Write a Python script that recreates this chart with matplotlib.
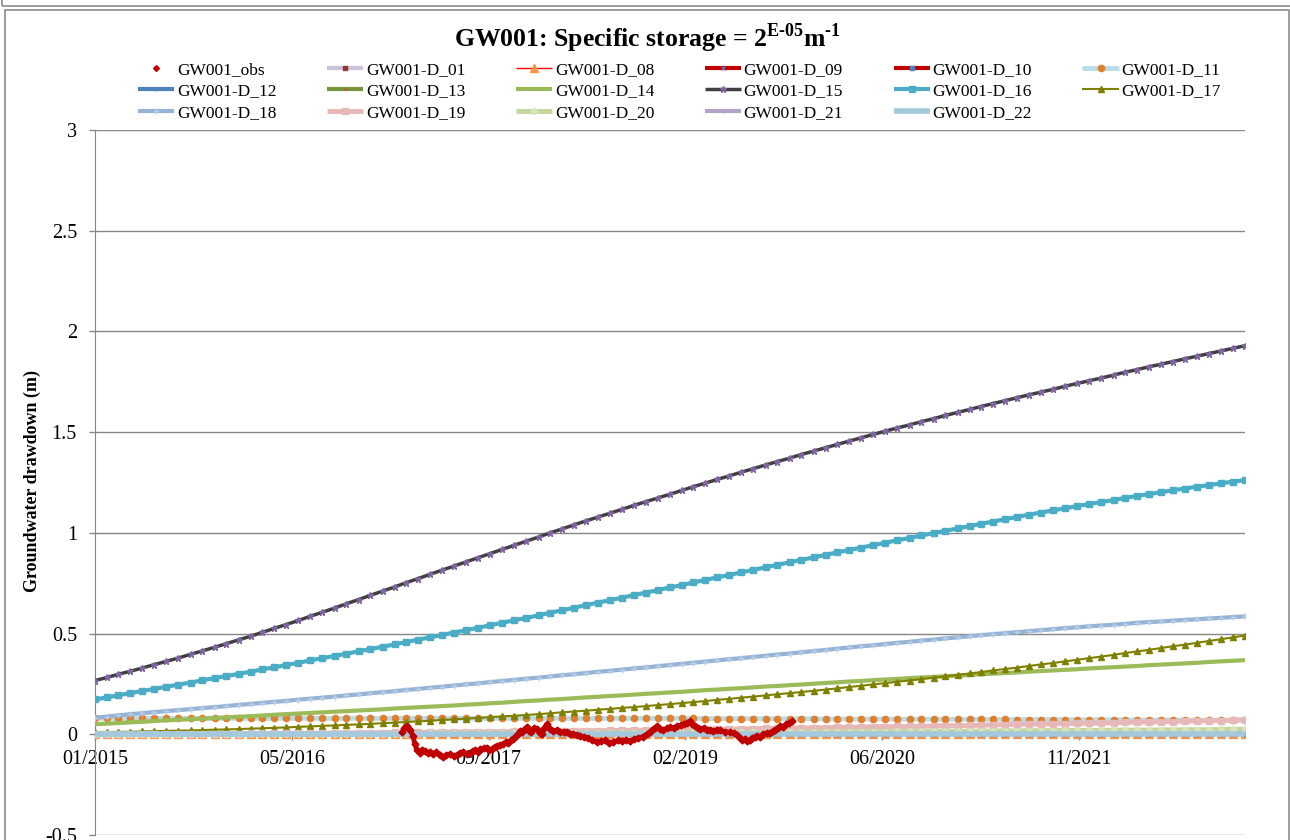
import matplotlib
matplotlib.use('Agg')
import matplotlib.pyplot as plt
from matplotlib.lines import Line2D
from matplotlib.patches import Rectangle
import pandas as pd

# ---- data ----
start_date = '2015-01-01'
tick_labels = ['01/2015', '05/2016', '09/2017', '02/2019', '06/2020', '11/2021']
tick_step_days = 500
y_ticks = [-0.5, 0, 0.5, 1, 1.5, 2, 2.5, 3]

# observed drawdown, days since start_date
obs_day = [780, 786, 792, 797, 801, 808, 813, 818, 826, 832,
           839, 846, 852, 860, 867, 876, 885, 893, 902, 911,
           920, 928, 935, 944, 953, 960, 966, 972, 979, 988,
           996, 1002, 1009, 1016, 1022, 1030, 1037, 1044, 1050, 1057,
           1063, 1069, 1075, 1080, 1085, 1092, 1098, 1103, 1108, 1116,
           1124, 1130, 1136, 1142, 1149, 1156, 1164, 1173, 1182, 1191,
           1200, 1208, 1215, 1224, 1233, 1243, 1253, 1264, 1276, 1286,
           1296, 1306, 1317, 1328, 1340, 1350, 1360, 1370, 1380, 1392,
           1403, 1410, 1416, 1422, 1429, 1436, 1444, 1453, 1462, 1470,
           1479, 1488, 1497, 1505, 1512, 1518, 1525, 1531, 1538, 1547,
           1556, 1563, 1571, 1580, 1589, 1601, 1614, 1623, 1632, 1638,
           1645, 1651, 1657, 1663, 1670, 1676, 1683, 1690, 1698, 1707,
           1716, 1722, 1729, 1735, 1741, 1749, 1757, 1764, 1772]
obs_val = [0.010, 0.030, 0.040, 0.028, 0.020, -0.010, -0.050, -0.080, -0.092, -0.078,
           -0.082, -0.095, -0.090, -0.100, -0.088, -0.105, -0.115, -0.102, -0.100, -0.110,
           -0.104, -0.092, -0.090, -0.098, -0.094, -0.082, -0.080, -0.086, -0.075, -0.068,
           -0.070, -0.078, -0.074, -0.062, -0.060, -0.052, -0.050, -0.040, -0.045, -0.030,
           -0.025, -0.008, 0.000, 0.015, 0.010, 0.028, 0.035, 0.018, 0.010, 0.030,
           0.025, 0.008, 0.000, 0.030, 0.050, 0.028, 0.015, 0.020, 0.010, 0.012,
           0.010, 0.002, 0.000, -0.005, -0.010, -0.012, -0.020, -0.028, -0.040, -0.035,
           -0.030, -0.042, -0.040, -0.030, -0.035, -0.028, -0.035, -0.025, -0.020, -0.012,
           0.000, 0.012, 0.020, 0.032, 0.040, 0.028, 0.020, 0.030, 0.035, 0.030,
           0.040, 0.045, 0.050, 0.058, 0.065, 0.050, 0.040, 0.030, 0.025, 0.030,
           0.020, 0.022, 0.015, 0.022, 0.020, 0.012, 0.010, 0.005, -0.005, -0.018,
           -0.030, -0.025, -0.035, -0.028, -0.020, -0.015, -0.010, -0.012, 0.000, 0.008,
           0.005, 0.015, 0.020, 0.032, 0.040, 0.038, 0.050, 0.055, 0.065]

# simulated drawdown, monthly from 01/2015 to 01/2023
n_months = 97
d01 = [0.0] * n_months
d08 = [0.0] * n_months
d09 = [0.0] * n_months
d10 = [0.0] * n_months
d11 = [0.079, 0.079, 0.079, 0.079, 0.079, 0.079, 0.079, 0.079, 0.079, 0.079,
       0.079, 0.079, 0.079, 0.079, 0.079, 0.079, 0.079, 0.079, 0.079, 0.079,
       0.079, 0.079, 0.079, 0.079, 0.079, 0.079, 0.079, 0.079, 0.079, 0.079,
       0.079, 0.079, 0.079, 0.079, 0.079, 0.079, 0.079, 0.079, 0.079, 0.079,
       0.079, 0.079, 0.079, 0.079, 0.079, 0.079, 0.079, 0.079, 0.079, 0.079,
       0.079, 0.078, 0.078, 0.078, 0.078, 0.078, 0.077, 0.077, 0.077, 0.077,
       0.077, 0.076, 0.076, 0.076, 0.076, 0.076, 0.076, 0.075, 0.075, 0.075,
       0.075, 0.075, 0.074, 0.074, 0.074, 0.074, 0.074, 0.073, 0.073, 0.073,
       0.073, 0.073, 0.072, 0.072, 0.072, 0.072, 0.072, 0.071, 0.071, 0.071,
       0.071, 0.071, 0.070, 0.070, 0.070, 0.070, 0.070]
d12 = [0.000, 0.000, 0.000, 0.000, 0.000, 0.000, 0.000, 0.000, 0.000, 0.000,
       0.000, 0.000, 0.000, 0.000, 0.000, 0.001, 0.001, 0.001, 0.001, 0.001,
       0.001, 0.001, 0.001, 0.001, 0.001, 0.001, 0.001, 0.001, 0.001, 0.001,
       0.002, 0.002, 0.002, 0.002, 0.002, 0.002, 0.002, 0.002, 0.002, 0.002,
       0.003, 0.003, 0.003, 0.003, 0.003, 0.004, 0.004, 0.004, 0.004, 0.004,
       0.004, 0.004, 0.004, 0.004, 0.004, 0.005, 0.005, 0.005, 0.005, 0.005,
       0.006, 0.006, 0.006, 0.006, 0.006, 0.007, 0.007, 0.007, 0.007, 0.007,
       0.008, 0.008, 0.008, 0.008, 0.008, 0.009, 0.009, 0.009, 0.009, 0.009,
       0.010, 0.010, 0.010, 0.010, 0.011, 0.011, 0.011, 0.012, 0.012, 0.012,
       0.013, 0.013, 0.013, 0.014, 0.014, 0.015, 0.015]
d13 = [0.000, 0.000, 0.000, 0.000, 0.000, 0.000, 0.000, 0.000, 0.000, 0.000,
       0.000, 0.000, 0.000, 0.000, 0.000, 0.000, 0.000, 0.000, 0.000, 0.000,
       0.001, 0.001, 0.001, 0.001, 0.001, 0.001, 0.001, 0.001, 0.001, 0.001,
       0.001, 0.001, 0.001, 0.001, 0.001, 0.001, 0.001, 0.001, 0.001, 0.001,
       0.002, 0.002, 0.002, 0.002, 0.002, 0.002, 0.002, 0.002, 0.002, 0.002,
       0.003, 0.003, 0.003, 0.003, 0.003, 0.003, 0.003, 0.003, 0.003, 0.003,
       0.004, 0.004, 0.004, 0.004, 0.004, 0.004, 0.004, 0.004, 0.004, 0.004,
       0.006, 0.006, 0.006, 0.006, 0.006, 0.006, 0.006, 0.006, 0.006, 0.006,
       0.008, 0.008, 0.008, 0.008, 0.008, 0.008, 0.008, 0.008, 0.008, 0.008,
       0.010, 0.010, 0.010, 0.010, 0.010, 0.010, 0.010]
d14 = [0.050, 0.053, 0.056, 0.059, 0.062, 0.066, 0.069, 0.072, 0.075, 0.078,
       0.081, 0.084, 0.087, 0.090, 0.093, 0.097, 0.100, 0.103, 0.106, 0.109,
       0.112, 0.115, 0.118, 0.121, 0.124, 0.128, 0.131, 0.134, 0.137, 0.140,
       0.143, 0.147, 0.150, 0.154, 0.157, 0.161, 0.165, 0.168, 0.172, 0.175,
       0.179, 0.183, 0.186, 0.190, 0.193, 0.197, 0.201, 0.204, 0.208, 0.211,
       0.215, 0.219, 0.222, 0.226, 0.229, 0.233, 0.237, 0.240, 0.244, 0.247,
       0.251, 0.255, 0.258, 0.262, 0.265, 0.269, 0.272, 0.275, 0.279, 0.282,
       0.285, 0.288, 0.291, 0.295, 0.298, 0.301, 0.304, 0.307, 0.311, 0.314,
       0.317, 0.320, 0.323, 0.327, 0.330, 0.333, 0.336, 0.339, 0.343, 0.346,
       0.349, 0.352, 0.355, 0.359, 0.362, 0.365, 0.368]
d15 = [0.267, 0.282, 0.298, 0.313, 0.329, 0.346, 0.362, 0.379, 0.397, 0.414,
       0.432, 0.450, 0.469, 0.487, 0.506, 0.526, 0.545, 0.565, 0.586, 0.606,
       0.627, 0.648, 0.669, 0.690, 0.711, 0.732, 0.752, 0.773, 0.794, 0.815,
       0.835, 0.856, 0.877, 0.897, 0.918, 0.938, 0.959, 0.979, 0.999, 1.019,
       1.039, 1.059, 1.078, 1.097, 1.117, 1.136, 1.155, 1.173, 1.192, 1.211,
       1.229, 1.247, 1.265, 1.283, 1.301, 1.319, 1.337, 1.354, 1.371, 1.389,
       1.406, 1.423, 1.439, 1.456, 1.472, 1.489, 1.505, 1.521, 1.536, 1.552,
       1.567, 1.583, 1.598, 1.613, 1.627, 1.642, 1.656, 1.671, 1.685, 1.699,
       1.713, 1.728, 1.742, 1.755, 1.769, 1.783, 1.797, 1.810, 1.824, 1.837,
       1.850, 1.864, 1.877, 1.890, 1.903, 1.916, 1.929]
d16 = [0.173, 0.183, 0.194, 0.204, 0.215, 0.225, 0.236, 0.246, 0.257, 0.268,
       0.279, 0.289, 0.300, 0.311, 0.322, 0.333, 0.344, 0.355, 0.367, 0.378,
       0.389, 0.400, 0.412, 0.423, 0.435, 0.446, 0.458, 0.470, 0.481, 0.493,
       0.505, 0.517, 0.529, 0.541, 0.554, 0.566, 0.578, 0.590, 0.603, 0.615,
       0.628, 0.641, 0.653, 0.666, 0.678, 0.691, 0.703, 0.716, 0.729, 0.741,
       0.754, 0.766, 0.779, 0.791, 0.804, 0.816, 0.829, 0.841, 0.854, 0.866,
       0.878, 0.891, 0.903, 0.915, 0.927, 0.939, 0.951, 0.963, 0.975, 0.987,
       0.999, 1.010, 1.022, 1.034, 1.045, 1.056, 1.068, 1.079, 1.090, 1.101,
       1.112, 1.122, 1.133, 1.143, 1.153, 1.163, 1.173, 1.183, 1.192, 1.202,
       1.211, 1.220, 1.229, 1.237, 1.246, 1.254, 1.262]
d17 = [0.010, 0.011, 0.012, 0.013, 0.014, 0.015, 0.017, 0.018, 0.019, 0.021,
       0.023, 0.024, 0.026, 0.028, 0.030, 0.032, 0.034, 0.037, 0.039, 0.042,
       0.044, 0.047, 0.049, 0.052, 0.055, 0.058, 0.061, 0.064, 0.067, 0.071,
       0.074, 0.078, 0.081, 0.085, 0.089, 0.092, 0.096, 0.100, 0.104, 0.109,
       0.113, 0.117, 0.122, 0.126, 0.131, 0.135, 0.140, 0.145, 0.150, 0.155,
       0.160, 0.165, 0.171, 0.176, 0.182, 0.187, 0.193, 0.199, 0.204, 0.210,
       0.216, 0.222, 0.228, 0.235, 0.241, 0.248, 0.254, 0.261, 0.267, 0.274,
       0.281, 0.288, 0.295, 0.302, 0.309, 0.317, 0.324, 0.331, 0.339, 0.347,
       0.354, 0.362, 0.370, 0.378, 0.386, 0.394, 0.403, 0.411, 0.419, 0.428,
       0.437, 0.445, 0.454, 0.463, 0.472, 0.481, 0.490]
d18 = [0.082, 0.088, 0.094, 0.100, 0.105, 0.110, 0.115, 0.120, 0.125, 0.130,
       0.135, 0.140, 0.146, 0.151, 0.156, 0.161, 0.166, 0.172, 0.177, 0.182,
       0.187, 0.193, 0.198, 0.204, 0.209, 0.214, 0.220, 0.225, 0.231, 0.236,
       0.242, 0.248, 0.253, 0.259, 0.265, 0.270, 0.276, 0.281, 0.287, 0.293,
       0.298, 0.304, 0.310, 0.315, 0.321, 0.327, 0.332, 0.338, 0.344, 0.350,
       0.355, 0.361, 0.367, 0.373, 0.378, 0.384, 0.390, 0.396, 0.401, 0.407,
       0.413, 0.419, 0.425, 0.431, 0.437, 0.442, 0.448, 0.454, 0.459, 0.465,
       0.470, 0.476, 0.481, 0.487, 0.492, 0.497, 0.502, 0.507, 0.512, 0.517,
       0.522, 0.527, 0.531, 0.536, 0.540, 0.544, 0.548, 0.553, 0.557, 0.560,
       0.564, 0.568, 0.571, 0.575, 0.578, 0.582, 0.585]
d19 = [0.000, 0.000, 0.000, 0.001, 0.001, 0.001, 0.001, 0.002, 0.002, 0.002,
       0.003, 0.003, 0.003, 0.004, 0.004, 0.004, 0.005, 0.005, 0.005, 0.006,
       0.006, 0.007, 0.007, 0.008, 0.008, 0.009, 0.009, 0.009, 0.010, 0.011,
       0.011, 0.012, 0.012, 0.013, 0.013, 0.014, 0.014, 0.015, 0.016, 0.016,
       0.017, 0.018, 0.018, 0.019, 0.020, 0.020, 0.021, 0.022, 0.022, 0.023,
       0.024, 0.025, 0.026, 0.026, 0.027, 0.028, 0.029, 0.030, 0.030, 0.031,
       0.032, 0.033, 0.034, 0.035, 0.036, 0.037, 0.038, 0.039, 0.039, 0.040,
       0.041, 0.042, 0.043, 0.044, 0.045, 0.047, 0.048, 0.049, 0.050, 0.051,
       0.052, 0.053, 0.054, 0.055, 0.056, 0.057, 0.059, 0.060, 0.061, 0.062,
       0.063, 0.065, 0.066, 0.067, 0.068, 0.070, 0.071]
d20 = [0.000, 0.000, 0.000, 0.000, 0.000, 0.000, 0.000, 0.001, 0.001, 0.001,
       0.001, 0.001, 0.001, 0.001, 0.001, 0.001, 0.002, 0.002, 0.002, 0.002,
       0.002, 0.002, 0.002, 0.003, 0.003, 0.003, 0.003, 0.003, 0.004, 0.004,
       0.004, 0.004, 0.004, 0.005, 0.005, 0.005, 0.005, 0.005, 0.006, 0.006,
       0.006, 0.006, 0.006, 0.007, 0.007, 0.007, 0.007, 0.008, 0.008, 0.008,
       0.008, 0.009, 0.009, 0.009, 0.009, 0.010, 0.010, 0.011, 0.011, 0.011,
       0.011, 0.012, 0.012, 0.012, 0.013, 0.013, 0.013, 0.014, 0.014, 0.014,
       0.014, 0.015, 0.015, 0.015, 0.016, 0.016, 0.017, 0.017, 0.018, 0.018,
       0.018, 0.019, 0.019, 0.019, 0.020, 0.020, 0.021, 0.021, 0.021, 0.022,
       0.022, 0.023, 0.023, 0.023, 0.024, 0.025, 0.025]
d21 = [0.0] * n_months
d22 = [0.0] * n_months

# name, values, line colour, line width, marker, marker colour, marker size
series = [
    ('GW001-D_01', d01, '#CCC1DA', 3.0, 's', '#953735', 3.5),
    ('GW001-D_08', d08, '#FF0000', 1.0, '^', '#F79646', 6.0),
    ('GW001-D_09', d09, '#C00000', 3.0, 'x', '#8064A2', 3.0),
    ('GW001-D_10', d10, '#C00000', 3.0, 's', '#4F81BD', 3.0),
    ('GW001-D_11', d11, '#B7DEE8', 3.5, 'o', '#E0802F', 4.5),
    ('GW001-D_12', d12, '#4F81BD', 3.0, '+', '#4F81BD', 3.0),
    ('GW001-D_13', d13, '#77933C', 3.0, '.', '#C0504D', 2.0),
    ('GW001-D_14', d14, '#9BBB59', 3.0, None, '#9BBB59', 0),
    ('GW001-D_15', d15, '#404040', 2.5, '*', '#8064A2', 4.5),
    ('GW001-D_16', d16, '#4BACC6', 3.0, 's', '#4BACC6', 4.0),
    ('GW001-D_17', d17, '#808000', 1.5, '^', '#808000', 5.0),
    ('GW001-D_18', d18, '#95B3D7', 3.0, '+', '#B9CDE5', 4.0),
    ('GW001-D_19', d19, '#E6B9B8', 3.5, 's', '#E6B9B8', 4.0),
    ('GW001-D_20', d20, '#C3D69B', 3.5, 'o', '#D7E4BD', 4.0),
    ('GW001-D_21', d21, '#B3A2C7', 3.0, '+', '#B3A2C7', 3.0),
    ('GW001-D_22', d22, '#A5C9DC', 4.0, None, '#A5C9DC', 0),
]

plt.rcParams['font.family'] = ['Liberation Serif', 'DejaVu Serif']
plt.rcParams['mathtext.fontset'] = 'custom'
plt.rcParams['mathtext.rm'] = 'Liberation Serif:bold'
plt.rcParams['mathtext.bf'] = 'Liberation Serif:bold'

W, H = 1290, 840
fig = plt.figure(figsize=(W / 100, H / 100), dpi=100)
ax = fig.add_axes([95 / W, 5 / H, 1150 / W, 705 / H])

start = pd.Timestamp(start_date)
months = pd.date_range(start_date, periods=n_months, freq='MS')
obs_dates = start + pd.to_timedelta(obs_day, unit='D')

handles = {}
for z, (name, vals, col, lw, mk, mcol, ms) in enumerate(series):
    line, = ax.plot(months, vals, color=col, lw=lw, marker=mk, ms=ms,
                    mfc=mcol, mec=mcol, mew=1.0, label=name, zorder=3 + z * 0.01,
                    solid_capstyle='butt')
    handles[name] = line

ax.plot(obs_dates, obs_val, color='#C00000', lw=3.5, marker='D', ms=3.5,
        mec='#C00000', zorder=5)
handles['GW001_obs'] = Line2D([], [], ls='none', marker='D', ms=3,
                              color='#C00000')

# axes look (Excel-like)
ax.set_xlim(start, months[-1])
ax.set_ylim(-0.5, 3)
ax.set_yticks(y_ticks)
ax.set_yticklabels(['-0.5', '0', '0.5', '1', '1.5', '2', '2.5', '3'])
xt = [start + pd.Timedelta(days=tick_step_days * i) for i in range(len(tick_labels))]
ax.set_xticks(xt)
ax.set_xticklabels(tick_labels)
ax.yaxis.grid(True, color='#868686', lw=1)
ax.set_axisbelow(True)
for s in ['top', 'right']:
    ax.spines[s].set_visible(False)
ax.spines['left'].set_color('#868686')
ax.spines['bottom'].set_color('#868686')
ax.spines['bottom'].set_position(('data', 0))
ax.tick_params(axis='both', direction='out', length=4, color='#868686',
               labelsize=14.5, width=1)
ax.tick_params(axis='x', pad=7)
ax.tick_params(axis='y', pad=9)

# title, axis label, legend
fig.text(648 / W, 1 - 38 / H,
         r'GW001: Specific storage = 2$^{\text{E-05}}$m$^{\text{-1}}$',
         ha='center', va='center', fontsize=18.5, fontweight='bold')
fig.text(32 / W, 1 - 481 / H, 'Groundwater drawdown (m)', rotation=90,
         ha='center', va='center', fontsize=13, fontweight='bold')

order = ['GW001_obs', 'GW001-D_12', 'GW001-D_18',
         'GW001-D_01', 'GW001-D_13', 'GW001-D_19',
         'GW001-D_08', 'GW001-D_14', 'GW001-D_20',
         'GW001-D_09', 'GW001-D_15', 'GW001-D_21',
         'GW001-D_10', 'GW001-D_16', 'GW001-D_22',
         'GW001-D_11', 'GW001-D_17']
fig.legend([handles[k] for k in order], order, ncol=6, loc='upper left',
           bbox_to_anchor=(138 / W, 1 - 62 / H), frameon=False, fontsize=12.5,
           handlelength=2.1, handletextpad=0.15, columnspacing=2.9,
           labelspacing=0.3, borderpad=0, borderaxespad=0)

# chart borders (this chart and the bottom edge of the one above)
fig.add_artist(Rectangle((5 / W, -0.1), (1289 - 5) / W, 1.1 - 10 / H,
                         transform=fig.transFigure, fill=False,
                         ec='#8C8C8C', lw=1.2))
fig.add_artist(Rectangle((2 / W, 1 - 6 / H), (1300 - 2) / W, 0.2,
                         transform=fig.transFigure, fill=False,
                         ec='#8C8C8C', lw=1.2))
fig.text(52 / W, 1 + 4 / H, '0.5', ha='center', va='center', fontsize=12)

fig.savefig('out.png', dpi=100)
